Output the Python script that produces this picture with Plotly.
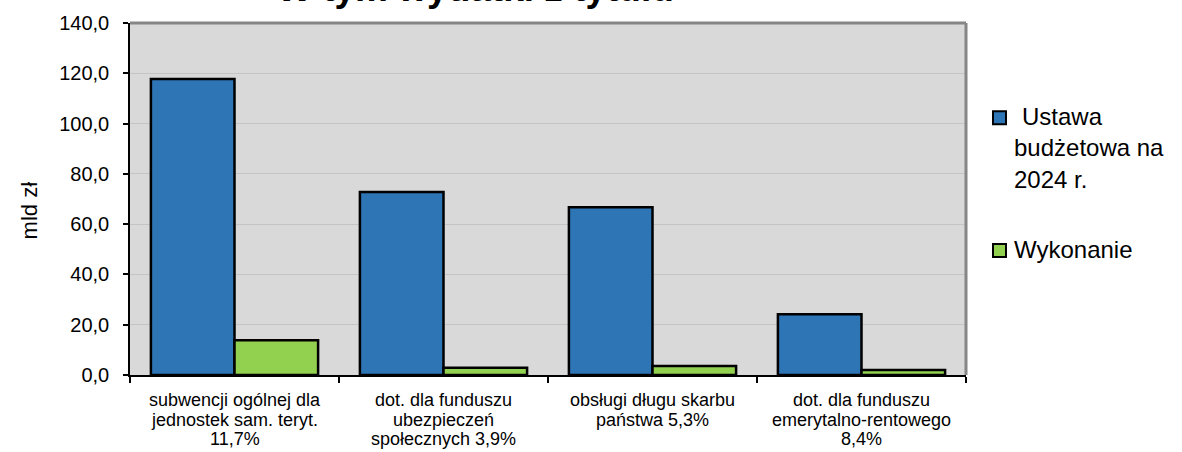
import plotly.graph_objects as go

# ---------------- data ----------------
categories = [
    "subwencji ogólnej dla\njednostek sam. teryt.\n11,7%",
    "dot. dla funduszu\nubezpieczeń\nspołecznych 3,9%",
    "obsługi długu skarbu\npaństwa 5,3%",
    "dot. dla funduszu\nemerytalno-rentowego\n8,4%",
]
ustawa = [117.7, 72.8, 66.7, 24.2]
wykonanie = [13.8, 2.9, 3.6, 2.0]
series_names = ["Ustawa", "budżetowa na", "2024 r."]
series2_name = "Wykonanie"
title_text = "W tym wydatki z tytułu"
y_title = "mld zł"
y_ticks = [0, 20, 40, 60, 80, 100, 120, 140]

# ---------------- layout helpers ----------------
W, H = 1182, 452
L, R, T, B = 130, 966, 20, 375


def px2x(px):
    return (px - L) / (R - L)


def py2y(py):
    return (B - py) / (B - T)


FONT = "Liberation Sans, Arial, sans-serif"
BLUE = "#2e75b6"
GREEN = "#92d050"

fig = go.Figure()
fig.add_trace(go.Bar(x=categories, y=ustawa, name=" ".join(series_names),
                     marker=dict(color=BLUE, line=dict(color="black", width=2.5)),
                     showlegend=False))
fig.add_trace(go.Bar(x=categories, y=wykonanie, name=series2_name,
                     marker=dict(color=GREEN, line=dict(color="black", width=2.5)),
                     showlegend=False))

annotations = []
# category labels, one annotation per line
cat_baselines = [407, 426.5, 446]
cfs = 18
for cat in categories:
    for i, line in enumerate(cat.split("\n")):
        annotations.append(dict(
            x=cat, xref="x", y=py2y(cat_baselines[i] - 0.35 * cfs), yref="paper",
            text=line, showarrow=False, xanchor="center", yanchor="middle",
            font=dict(family=FONT, size=cfs, color="black")))

# title (clipped at the top like in the reference)
annotations.append(dict(
    x=px2x(475), xref="paper", y=1, yref="paper", yanchor="bottom", yshift=12,
    text="<b>%s</b>" % title_text, showarrow=False, xanchor="center",
    font=dict(family=FONT, size=37, color="black")))

# y-axis title
annotations.append(dict(
    x=px2x(29), xref="paper", y=py2y(209), yref="paper", text=y_title,
    textangle=-90, showarrow=False, xanchor="center", yanchor="middle",
    font=dict(family=FONT, size=22, color="black")))

# legend (manual)
lfs = 24
leg_lines = [(series_names[0], 1020, 123), (series_names[1], 1012, 154),
             (series_names[2], 1012, 186), (series2_name, 1012, 257)]
for txt, lx, bl in leg_lines:
    annotations.append(dict(
        x=px2x(lx), xref="paper", y=py2y(bl - 0.35 * lfs), yref="paper",
        text=txt, showarrow=False, xanchor="left", yanchor="middle",
        font=dict(family=FONT, size=lfs, color="black")))

shapes = [
    # gray top and right frame
    dict(type="line", xref="paper", yref="paper", x0=0, x1=1, y0=1, y1=1,
         line=dict(color="#868686", width=3)),
    dict(type="line", xref="paper", yref="paper", x0=1, x1=1, y0=0, y1=1,
         line=dict(color="#868686", width=3)),
    # legend swatches
    dict(type="rect", xref="paper", yref="paper",
         x0=px2x(993), x1=px2x(1006), y0=py2y(122), y1=py2y(109),
         fillcolor=BLUE, line=dict(color="black", width=2)),
    dict(type="rect", xref="paper", yref="paper",
         x0=px2x(993), x1=px2x(1006), y0=py2y(256), y1=py2y(243),
         fillcolor=GREEN, line=dict(color="black", width=2)),
]

fig.update_layout(
    width=W, height=H, autosize=False,
    margin=dict(l=L, r=W - R, t=T, b=H - B, pad=0),
    paper_bgcolor="white", plot_bgcolor="#d9d9d9",
    barmode="group", bargap=0.2, bargroupgap=0,
    separators=", ",
    font=dict(family=FONT, color="black"),
    annotations=annotations, shapes=shapes,
    showlegend=False,
)
fig.update_xaxes(showticklabels=False, showline=True, linecolor="black", linewidth=1.5,
                 ticks="outside", tickson="boundaries", ticklen=6, tickcolor="black",
                 tickwidth=1.5, showgrid=False, zeroline=False)
fig.update_yaxes(range=[0, 140], tickvals=y_ticks, tickformat=".1f", showline=True,
                 linecolor="black", linewidth=1.5, ticks="outside", ticklen=5,
                 tickcolor="black", tickwidth=1.5, showgrid=True, gridcolor="#c4c4c4",
                 gridwidth=1, zeroline=False, ticklabelstandoff=10,
                 tickfont=dict(family=FONT, size=20, color="black"))

fig.write_html("out.html", config={"displayModeBar": False},
               post_script="document.body.style.margin='0';document.body.style.padding='0';")
